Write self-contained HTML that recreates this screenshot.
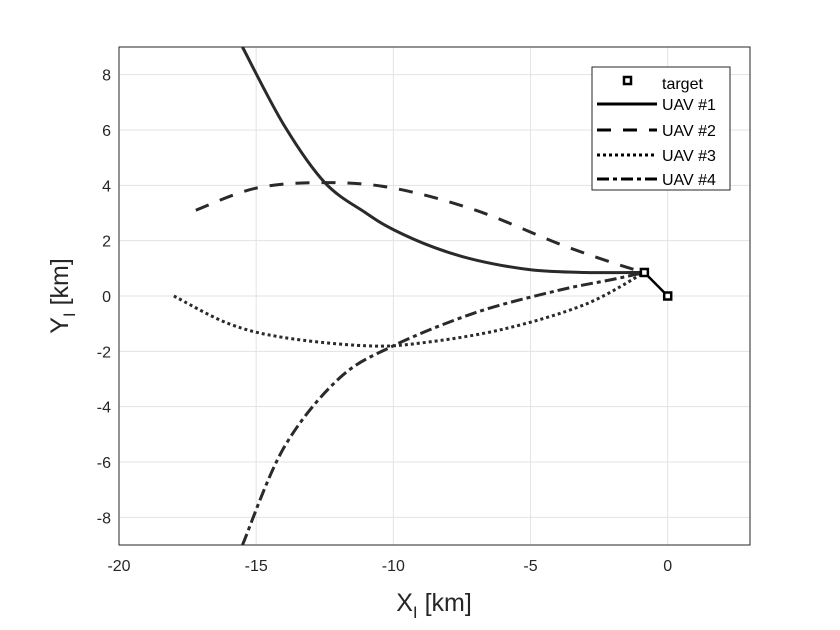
<!DOCTYPE html>
<html><head><meta charset="utf-8"><style>
body{margin:0;background:#fff;}
svg{display:block;font-family:"Liberation Sans",sans-serif;}
</style></head><body>
<svg id="c" width="840" height="630">
<rect width="840" height="630" fill="#fff"/>
<rect x="119" y="47" width="631" height="498" fill="#fff"/>
<g id="grid"></g>
<g id="series"></g>
<rect x="119" y="47" width="631" height="498" fill="none" stroke="#262626" stroke-width="1"/>
<g id="ticks"></g>
<text x="434" y="611" font-size="25" text-anchor="middle" fill="#262626">X<tspan font-size="17" dy="7">I</tspan><tspan dy="-7"> [km]</tspan></text>
<text transform="translate(68,296) rotate(-90)" font-size="25" text-anchor="middle" fill="#262626">Y<tspan font-size="17" dy="7">I</tspan><tspan dy="-7"> [km]</tspan></text>
<g>
<rect x="592" y="67" width="138" height="123" fill="#fff" stroke="#262626" stroke-width="1"/>
<rect x="624" y="77" width="7" height="7" fill="none" stroke="#000" stroke-width="2.5"/>
<text x="662" y="89" font-size="16" fill="#000">target</text>
<line x1="597" y1="104" x2="657" y2="104" stroke="#000" stroke-width="3"/>
<text x="662" y="110" font-size="16" fill="#000">UAV #1</text>
<line x1="597" y1="130" x2="657" y2="130" stroke="#000" stroke-width="3" stroke-dasharray="14,12"/>
<text x="662" y="136" font-size="16" fill="#000">UAV #2</text>
<line x1="597" y1="155" x2="657" y2="155" stroke="#000" stroke-width="3" stroke-dasharray="3,3"/>
<text x="662" y="161" font-size="16" fill="#000">UAV #3</text>
<line x1="597" y1="179" x2="657" y2="179" stroke="#000" stroke-width="3" stroke-dasharray="12,4,4,4"/>
<text x="662" y="185" font-size="16" fill="#000">UAV #4</text>
</g>
</svg>
<script>
const xTicks=[-20,-15,-10,-5,0];
const yTicks=[-8,-6,-4,-2,0,2,4,6,8];
const uav1X=[-15.5,-14,-12.5,-11,-10,-8.5,-7,-5,-3,-0.85];
const uav1Y=[9,6.2,4.1,3,2.4,1.75,1.3,0.95,0.85,0.85];
const uav2X=[-17.2,-15,-12.5,-10,-7,-4,-2,-0.85];
const uav2Y=[3.1,3.9,4.1,3.9,3.1,1.9,1.2,0.85];
const uav3X=[-18,-16,-14,-11,-9,-6,-3,-0.85];
const uav3Y=[0,-1,-1.5,-1.8,-1.7,-1.2,-0.3,0.85];
const uav4X=[-15.5,-14,-12,-10,-7,-4,-2,-0.85];
const uav4Y=[-9,-5.5,-3,-1.8,-0.6,0.2,0.6,0.85];
const targetX=[-0.85,0];
const targetY=[0.85,0];
const X0=-20,X1=3,Y0=-9,Y1=9,L=119,R=750,T=47,B=545;
const sx=v=>L+(v-X0)/(X1-X0)*(R-L);
const sy=v=>B-(v-Y0)/(Y1-Y0)*(B-T);
const NS='http://www.w3.org/2000/svg';
function mk(tag,attrs,parent){const e=document.createElementNS(NS,tag);for(const k in attrs)e.setAttribute(k,attrs[k]);parent.appendChild(e);return e;}
const grid=document.getElementById('grid'),ticks=document.getElementById('ticks'),ser=document.getElementById('series');
xTicks.forEach(v=>{
 const g=mk('line',{x1:sx(v),x2:sx(v),y1:T,y2:B,stroke:'#e3e3e3'},grid);
 
 
 const t=mk('text',{x:sx(v),y:B+26,'font-size':16,'text-anchor':'middle',fill:'#262626'},ticks);
 t.textContent=v;
 
 
});
yTicks.forEach(v=>{
 const g=mk('line',{x1:L,x2:R,y1:sy(v),y2:sy(v),stroke:'#e3e3e3'},grid);
 
 
 const t=mk('text',{x:L-8,y:sy(v)+6,'font-size':16,'text-anchor':'end',fill:'#262626'},ticks);
 t.textContent=v;
 
 
});
function smooth(xs,ys){
 const p=xs.map((x,i)=>[sx(x),sy(ys[i])]);
 let d='M'+p[0][0]+','+p[0][1];
 for(let i=0;i<p.length-1;i++){
  const p0=p[i-1]||p[i],p1=p[i],p2=p[i+1],p3=p[i+2]||p2;
  const c1=[p1[0]+(p2[0]-p0[0])/6,p1[1]+(p2[1]-p0[1])/6];
  const c2=[p2[0]-(p3[0]-p1[0])/6,p2[1]-(p3[1]-p1[1])/6];
  d+=` C${c1[0]},${c1[1]} ${c2[0]},${c2[1]} ${p2[0]},${p2[1]}`;
 }
 return d;
}
const specs=[[uav1X,uav1Y,'none','uav1-line'],[uav2X,uav2Y,'14,12','uav2-line'],[uav3X,uav3Y,'3,3','uav3-line'],[uav4X,uav4Y,'12,4,4,4','uav4-line']];
specs.forEach(s=>{
 const p=mk('path',{d:smooth(s[0],s[1]),fill:'none',stroke:'#2a2a2a','stroke-width':3,'stroke-dasharray':s[2]},ser);
 
 
});
const tl=mk('line',{x1:sx(targetX[0]),y1:sy(targetY[0]),x2:sx(targetX[1]),y2:sy(targetY[1]),stroke:'#000','stroke-width':2.5},ser);


targetX.forEach((x,i)=>{
 const r=mk('rect',{x:sx(x)-3.5,y:sy(targetY[i])-3.5,width:7,height:7,fill:'#fff',stroke:'#000','stroke-width':2.5},ser);
 
 
});
</script>
</body></html>
